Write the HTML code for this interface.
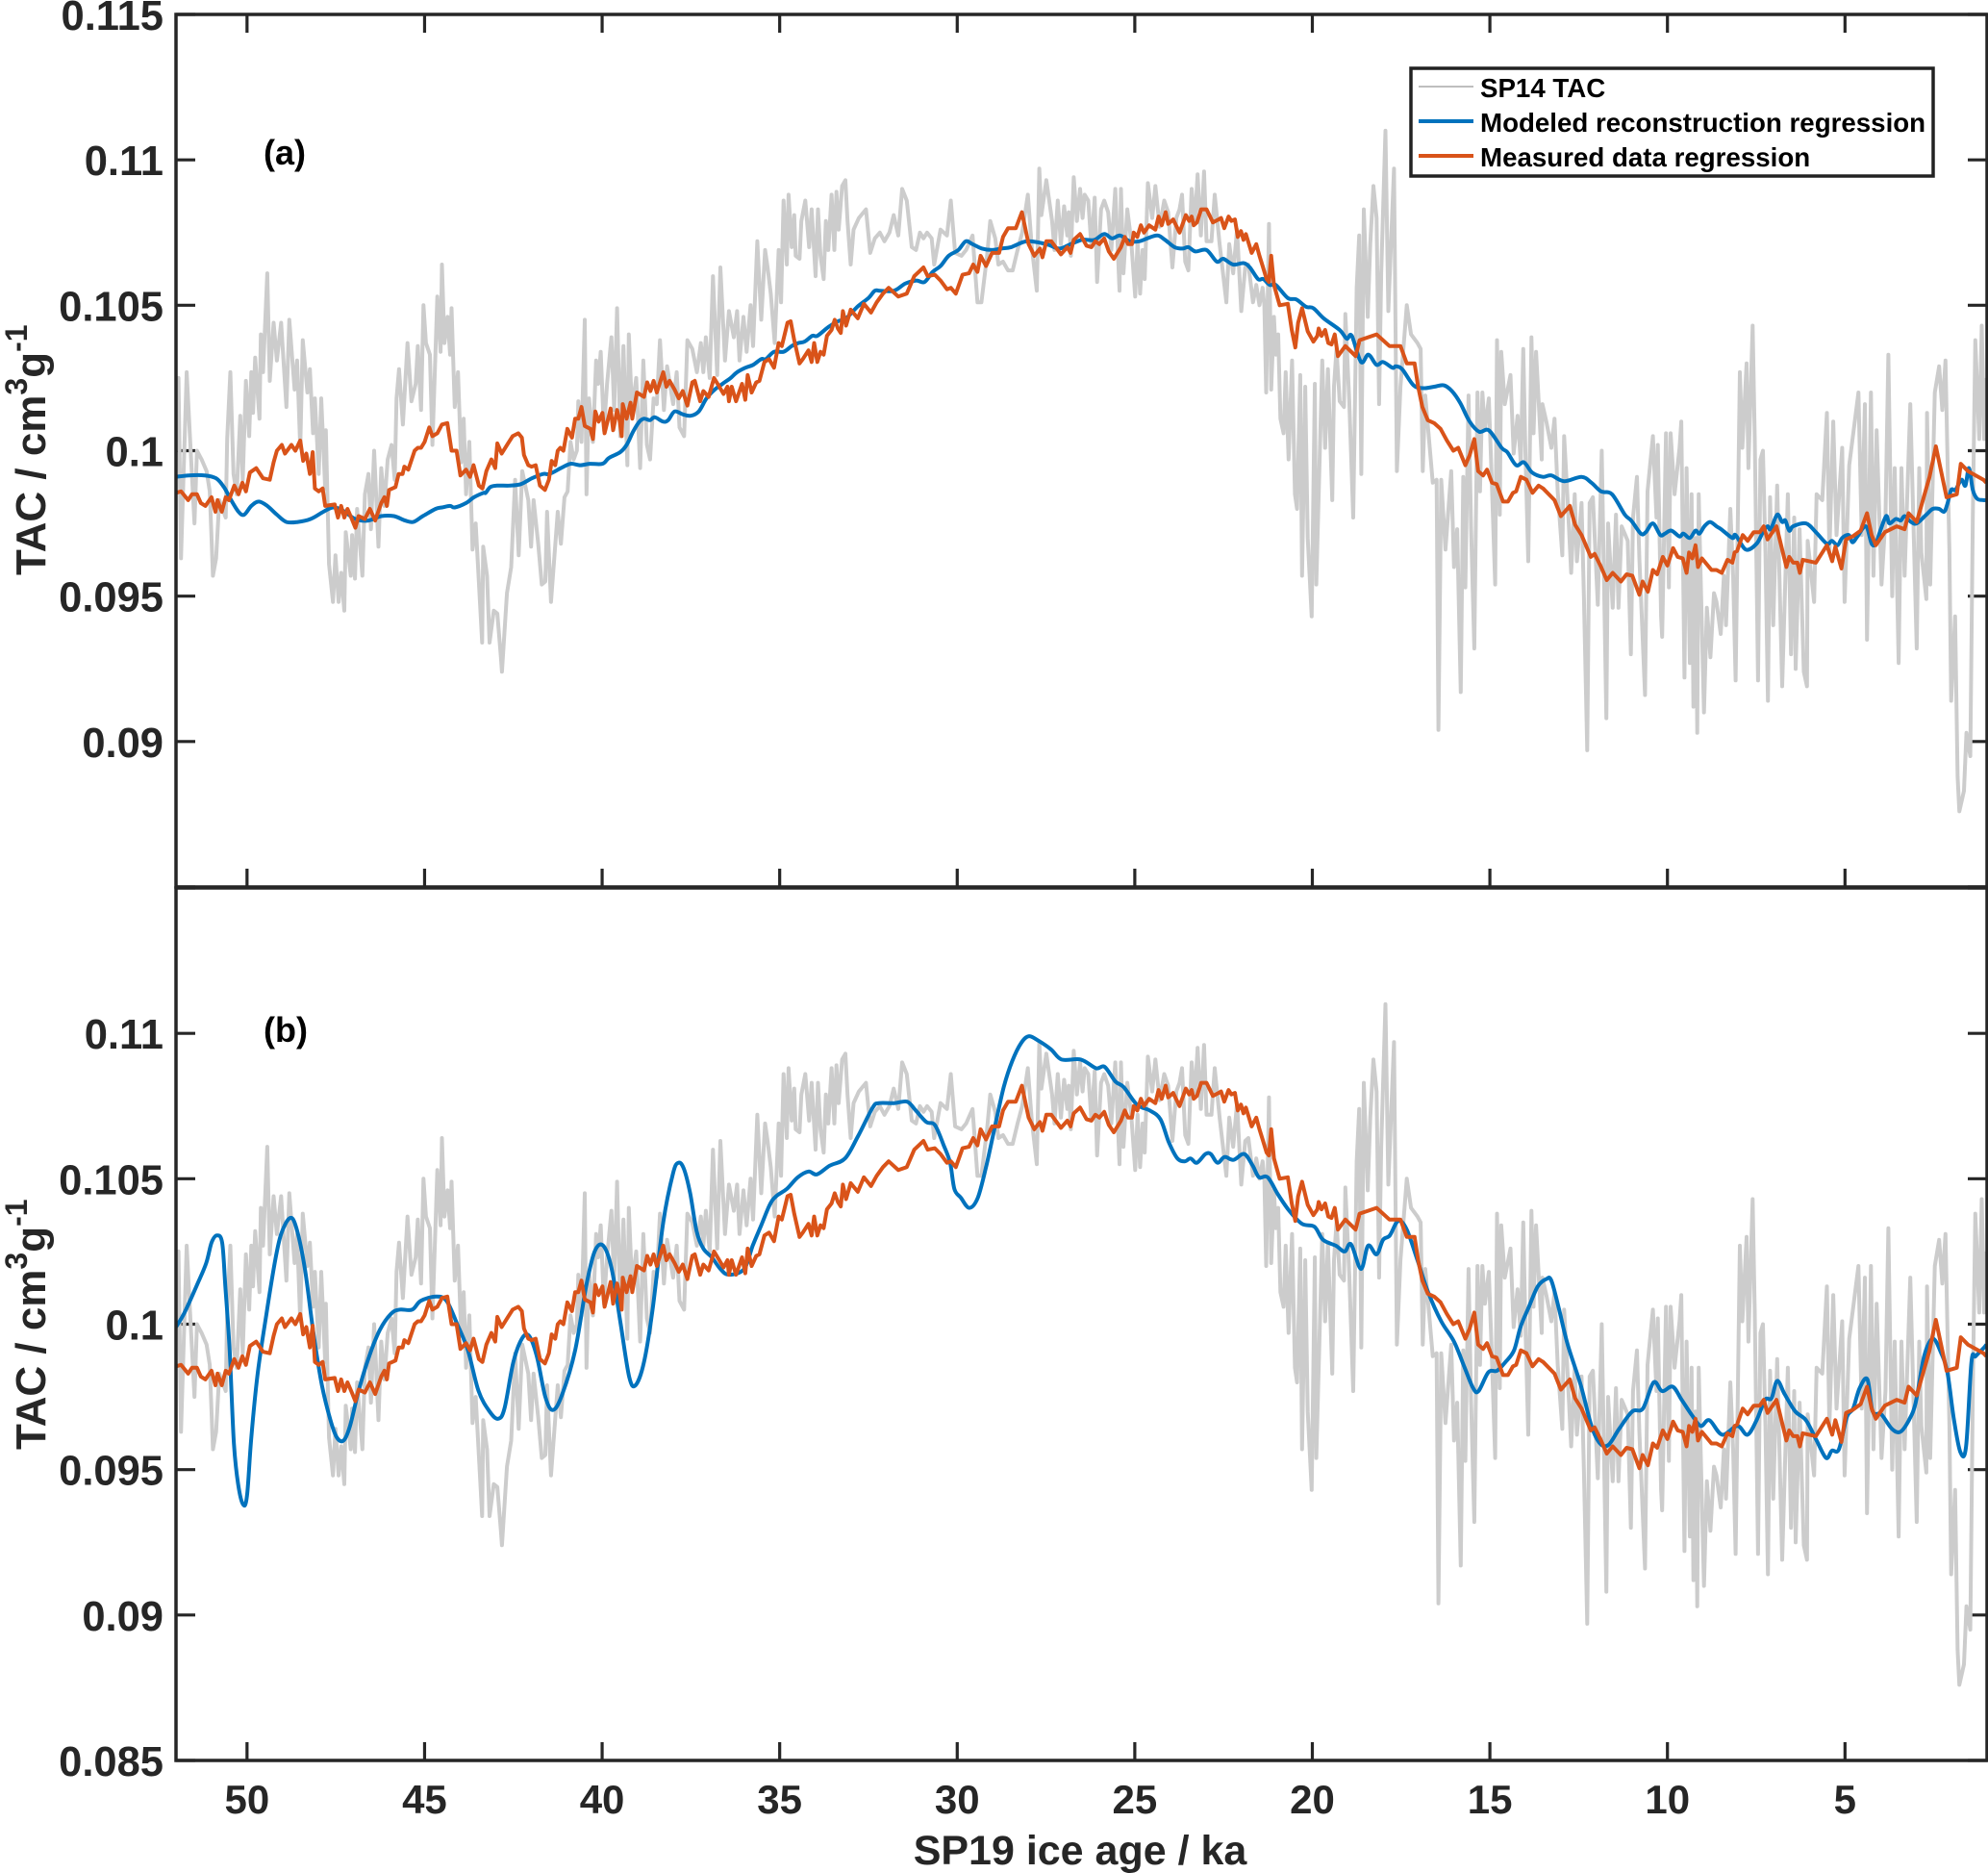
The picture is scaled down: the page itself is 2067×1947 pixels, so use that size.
<!DOCTYPE html>
<html lang="en">
<head>
<meta charset="utf-8">
<title>TAC versus SP19 ice age</title>
<style>
html,body{margin:0;padding:0;background:#fff;}
svg{display:block;}
text{font-family:"Liberation Sans",Arial,sans-serif;font-weight:bold;}
</style>
</head>
<body>
<svg id="chart" xmlns="http://www.w3.org/2000/svg" width="2067" height="1947" viewBox="0 0 2067 1947">
  <rect x="0" y="0" width="2067" height="1947" fill="#ffffff"/>
  <defs>
    <clipPath id="clip-a"><rect x="183" y="15" width="1883" height="907"/></clipPath>
    <clipPath id="clip-b"><rect x="183" y="923" width="1883" height="907"/></clipPath>
  </defs>
  <g id="panel-a"></g>
  <g id="panel-b"></g>

  <text x="274" y="171" font-size="36" fill="#000">(a)</text>
  <text x="274" y="1083" font-size="36" fill="#000">(b)</text>

  <text transform="translate(47,598) rotate(-90)" font-size="44" fill="#262626">TAC / cm<tspan font-size="32" dy="-19">3</tspan><tspan dy="19">g</tspan><tspan font-size="32" dy="-19">-1</tspan></text>
  <text transform="translate(47,1507) rotate(-90)" font-size="44" fill="#262626">TAC / cm<tspan font-size="32" dy="-19">3</tspan><tspan dy="19">g</tspan><tspan font-size="32" dy="-19">-1</tspan></text>
  <text x="1123" y="1938" font-size="43" text-anchor="middle" fill="#262626">SP19 ice age / ka</text>

  <g>
    <rect x="1467" y="71" width="543" height="112" fill="#ffffff" stroke="#222222" stroke-width="3.5"/>
    <line x1="1475" x2="1532" y1="90" y2="90" stroke="#a8a8a8" stroke-width="1.5"/>
    <text x="1539" y="101" font-size="27.7" fill="#000">SP14 TAC</text>
    <line x1="1475" x2="1532" y1="126" y2="126" stroke="#0072bd" stroke-width="4"/>
    <text x="1539" y="137" font-size="27.7" fill="#000">Modeled reconstruction regression</text>
    <line x1="1475" x2="1532" y1="162" y2="162" stroke="#d95319" stroke-width="4"/>
    <text x="1539" y="173" font-size="27.7" fill="#000">Measured data regression</text>
  </g>
</svg>
<script>
// Values are TAC in units of 10^-3 cm3/g; ages are ka.
const xTicks = [50,45,40,35,30,25,20,15,10,5];
const xTickLabels = ["50","45","40","35","30","25","20","15","10","5"];
const yTicks = [85,90,95,100,105,110,115];
const yTickLabelsA = ["","0.09","0.095","0.1","0.105","0.11","0.115"];
const yTickLabelsB = ["0.085","0.09","0.095","0.1","0.105","0.11",""];

const grayAges = [
52.00,51.93,51.86,51.70,51.59,51.48,51.41,51.28,51.14,51.05,
50.96,50.87,50.78,50.69,50.60,50.56,50.47,50.38,50.29,50.19,
50.12,50.03,49.94,49.88,49.83,49.77,49.65,49.61,49.55,49.43,
49.36,49.25,49.16,49.04,48.89,48.81,48.66,48.59,48.50,48.43,
48.30,48.23,48.14,48.09,47.98,47.91,47.80,47.78,47.69,47.58,
47.51,47.42,47.35,47.26,47.22,47.08,47.04,46.96,46.90,46.75,
46.68,46.58,46.51,46.42,46.30,46.22,46.13,46.04,45.93,45.84,
45.79,45.72,45.61,45.48,45.37,45.25,45.19,45.10,45.03,44.96,
44.85,44.78,44.64,44.55,44.51,44.44,44.35,44.28,44.24,44.15,
44.06,43.97,43.90,43.83,43.74,43.65,43.56,43.38,43.35,43.24,
43.17,43.05,42.95,42.85,42.82,42.68,42.56,42.45,42.35,42.25,
42.08,42.00,41.93,41.80,41.70,41.60,41.55,41.44,41.25,41.16,
41.06,40.97,40.89,40.80,40.71,40.67,40.58,40.49,40.44,40.37,
40.26,40.17,40.11,40.04,39.95,39.86,39.74,39.66,39.58,39.49,
39.40,39.29,39.25,39.16,39.04,38.93,38.84,38.74,38.65,38.55,
38.46,38.37,38.26,38.17,38.00,37.90,37.82,37.69,37.60,37.46,
37.33,37.22,37.15,37.08,36.97,36.88,36.76,36.67,36.54,36.43,
36.29,36.20,36.13,36.02,35.93,35.82,35.75,35.63,35.52,35.41,
35.34,35.25,35.14,35.03,34.96,34.89,34.80,34.75,34.66,34.59,
34.55,34.44,34.39,34.28,34.17,34.10,33.99,33.92,33.85,33.76,
33.70,33.63,33.54,33.46,33.40,33.34,33.24,33.15,33.09,33.00,
32.92,32.77,32.57,32.45,32.32,32.18,32.05,31.91,31.79,31.66,
31.55,31.42,31.28,31.16,31.05,30.95,30.85,30.72,30.65,30.47,
30.29,30.18,30.06,29.88,29.75,29.57,29.43,29.32,29.16,29.07,
28.93,28.84,28.71,28.57,28.44,28.30,28.17,28.01,27.90,27.76,
27.69,27.63,27.49,27.33,27.26,27.17,27.08,26.99,26.90,26.86,
26.80,26.72,26.63,26.54,26.47,26.41,26.31,26.22,26.13,26.06,
25.95,25.86,25.75,25.66,25.55,25.43,25.39,25.32,25.21,25.10,
24.99,24.92,24.85,24.78,24.72,24.63,24.51,24.42,24.30,24.17,
24.06,23.94,23.83,23.74,23.67,23.58,23.49,23.40,23.31,23.23,
23.14,23.05,22.98,22.84,22.75,22.61,22.42,22.34,22.23,22.12,
22.00,21.89,21.80,21.67,21.58,21.49,21.40,21.35,21.30,21.22,
21.16,21.08,21.03,20.96,20.90,20.81,20.75,20.67,20.57,20.49,
20.43,20.34,20.29,20.20,20.13,20.02,19.93,19.89,19.72,19.64,
19.56,19.44,19.39,19.32,19.23,19.11,19.07,18.96,18.85,18.75,
18.68,18.62,18.55,18.44,18.37,18.28,18.19,18.12,18.06,17.94,
17.86,17.70,17.62,17.52,17.34,17.22,17.04,16.95,16.89,16.82,
16.61,16.50,16.45,16.37,16.25,16.09,16.01,15.92,15.82,15.75,
15.69,15.60,15.53,15.44,15.35,15.28,15.21,15.14,15.03,14.96,
14.85,14.80,14.72,14.68,14.58,14.42,14.33,14.22,14.13,14.06,
14.00,13.92,13.83,13.77,13.70,13.54,13.52,13.41,13.27,13.18,
13.09,12.96,12.91,12.82,12.71,12.61,12.55,12.42,12.35,12.26,
12.19,12.10,11.96,11.85,11.72,11.67,11.54,11.45,11.38,11.29,
11.12,11.03,10.97,10.86,10.79,10.63,10.56,10.41,10.31,10.27,
10.18,10.15,10.04,9.96,9.91,9.80,9.66,9.61,9.52,9.46,
9.37,9.32,9.27,9.21,9.16,9.12,9.05,8.97,8.89,8.79,
8.69,8.62,8.50,8.41,8.35,8.23,8.15,8.08,7.96,7.89,
7.77,7.72,7.60,7.54,7.45,7.38,7.31,7.24,7.17,7.11,
7.02,6.91,6.77,6.61,6.52,6.43,6.39,6.28,6.16,6.07,
6.05,5.87,5.80,5.64,5.51,5.44,5.33,5.24,5.08,5.01,
4.88,4.62,4.53,4.44,4.38,4.27,4.20,4.11,3.97,3.86,
3.78,3.67,3.60,3.49,3.41,3.32,3.16,2.98,2.91,2.85,
2.71,2.69,2.60,2.47,2.35,2.26,2.17,2.06,2.01,1.90,
1.83,1.78,1.65,1.58,1.47,1.40,1.33,1.22,1.15,1.08,
1.02];
const grayValues = [
100.0,102.5,96.3,102.7,100.1,97.5,100.0,99.7,99.3,98.6,
95.7,96.3,98.3,98.0,97.7,100.4,102.7,99.2,98.5,101.2,
99.0,102.4,100.5,102.7,101.3,103.2,101.1,104.0,102.7,106.1,
102.4,104.4,103.1,104.4,101.5,104.5,102.1,103.1,100.1,103.8,
102.0,102.8,100.6,101.8,99.2,101.8,98.7,100.7,96.1,94.8,
96.4,94.8,95.8,94.5,97.2,95.7,97.1,95.6,98.0,95.7,
98.5,99.2,97.3,100.0,96.7,99.4,98.1,99.7,100.2,99.0,
101.8,102.8,100.9,103.7,101.7,102.3,103.6,101.4,105.0,103.7,
103.3,100.2,105.3,103.4,106.4,103.7,104.6,103.3,104.9,101.5,
102.7,99.6,101.1,98.5,100.3,96.6,97.5,93.4,96.7,95.7,
93.4,94.5,94.4,92.9,92.4,95.1,96.0,99.0,96.4,99.3,
98.3,96.7,98.3,96.8,95.4,95.5,97.9,94.8,97.9,96.8,
98.4,98.6,100.3,99.7,100.0,101.7,100.3,104.5,98.5,101.8,
100.3,103.1,102.3,103.4,100.7,102.3,103.9,101.4,104.9,100.5,
103.6,99.5,104.0,101.4,102.5,99.4,103.1,100.2,99.7,101.8,
101.6,103.8,101.4,102.9,101.6,102.7,100.8,100.5,103.8,103.5,
102.7,103.7,102.7,103.9,102.5,106.0,102.6,106.3,103.1,104.8,
103.9,104.8,103.1,104.6,103.4,105.0,103.6,107.2,104.5,106.9,
106.3,105.4,103.7,106.9,105.1,108.6,106.4,108.8,107.0,108.1,
106.7,106.6,107.9,108.6,107.0,108.3,106.0,108.3,106.7,105.9,
107.9,106.9,108.8,106.9,108.9,107.6,109.1,109.3,107.9,106.4,
107.6,108.0,108.3,106.8,107.3,107.5,107.2,107.5,108.1,107.4,
109.0,108.6,107.0,106.9,107.5,107.3,107.5,107.3,106.4,107.6,
107.4,108.6,106.8,106.7,106.9,107.4,105.1,105.1,106.7,107.9,
107.3,106.4,106.5,106.2,106.2,106.9,107.5,108.8,107.0,105.5,
109.7,108.1,109.3,107.9,106.9,108.6,107.1,108.4,107.4,108.2,
106.7,109.4,107.9,109.0,108.0,108.8,108.6,107.0,108.7,105.8,
108.3,108.6,108.2,106.9,109.0,105.5,109.0,106.1,108.3,107.2,
105.3,107.2,105.4,106.9,105.9,109.2,108.0,109.1,107.7,108.6,
108.2,106.3,108.0,108.3,108.8,106.5,106.2,109.0,107.8,109.5,
107.4,109.6,107.2,107.2,108.8,107.1,105.1,107.1,106.1,107.6,
104.8,106.3,106.4,105.1,105.7,105.0,105.6,105.0,102.0,107.8,
102.1,104.6,103.3,104.0,101.1,100.6,102.7,99.7,103.1,98.5,
98.0,102.6,95.7,102.2,97.0,94.3,102.3,95.4,103.1,100.1,
102.8,98.3,102.2,103.5,101.7,101.5,104.7,101.7,97.7,105.6,
107.4,99.2,108.3,104.6,107.1,109.1,108.0,101.6,106.1,111.0,
104.8,109.7,99.3,102.2,105.0,104.0,103.7,103.5,99.3,101.9,
98.9,99.0,90.4,99.0,96.6,99.3,96.0,97.3,91.7,99.1,
95.3,101.9,97.4,93.2,102.0,98.6,102.0,100.7,101.8,99.4,
95.4,103.8,97.8,103.4,101.6,102.6,99.9,101.2,99.6,103.5,
100.0,96.2,103.9,100.6,103.4,99.7,101.6,101.0,100.1,101.1,
98.6,96.4,100.5,98.5,95.8,98.5,96.2,98.2,94.9,89.7,
98.2,98.4,94.7,100.0,90.8,97.5,94.6,97.8,94.6,97.4,
96.9,93.0,97.7,99.1,96.3,91.6,98.6,100.5,97.7,100.2,
94.3,93.6,100.6,95.3,100.6,98.5,100.1,101.0,92.2,99.4,
92.7,98.5,91.2,97.0,90.3,98.5,94.9,91.0,94.6,92.9,
95.1,94.8,93.7,95.7,94.0,98.0,95.7,92.1,102.7,100.1,
103.0,99.4,104.3,100.4,92.1,99.7,100.0,96.5,91.4,98.4,
94.0,98.8,91.9,98.5,93.0,97.7,92.5,97.3,92.4,91.9,
96.9,94.8,98.5,98.3,101.3,96.5,101.0,97.1,100.1,94.8,
99.5,102.0,97.1,101.6,93.5,102.0,95.7,100.7,95.4,97.7,
103.3,95.0,99.4,92.7,99.4,95.7,101.6,93.2,99.4,96.5,
94.9,101.3,95.4,102.0,102.9,101.4,103.1,96.5,91.4,94.3,
88.8,87.6,88.3,90.3,89.5,97.7,103.8,100.4,104.3,100.4,
102.5];

const orangeAges = [
52.00,51.86,51.66,51.55,51.41,51.30,51.17,51.00,50.89,50.83,
50.71,50.60,50.51,50.36,50.24,50.13,50.03,49.92,49.74,49.55,
49.36,49.25,49.16,49.02,48.93,48.75,48.64,48.50,48.42,48.33,
48.23,48.15,48.09,47.98,47.87,47.80,47.53,47.44,47.35,47.26,
47.17,47.05,46.95,46.86,46.68,46.54,46.39,46.22,46.13,46.06,
46.00,45.82,45.73,45.62,45.57,45.46,45.28,45.19,45.10,45.00,
44.87,44.78,44.64,44.51,44.36,44.24,44.10,43.99,43.83,43.72,
43.62,43.47,43.37,43.26,43.12,43.01,42.95,42.83,42.65,42.52,
42.36,42.26,42.20,42.08,41.99,41.87,41.75,41.61,41.50,41.42,
41.32,41.25,41.18,41.09,40.98,40.85,40.76,40.67,40.58,40.49,
40.33,40.26,40.19,40.10,39.99,39.93,39.76,39.69,39.58,39.51,
39.45,39.42,39.31,39.20,39.15,39.02,38.82,38.73,38.64,38.55,
38.46,38.28,38.19,38.10,37.96,37.84,37.73,37.60,37.46,37.39,
37.24,37.15,37.00,36.85,36.70,36.58,36.47,36.43,36.35,36.23,
36.06,35.97,35.90,35.79,35.66,35.57,35.43,35.30,35.16,35.03,
34.94,34.78,34.69,34.59,34.44,34.35,34.19,34.10,34.03,33.94,
33.85,33.76,33.67,33.54,33.45,33.36,33.28,33.22,33.13,33.00,
32.80,32.63,32.43,32.27,32.09,31.93,31.66,31.42,31.21,30.95,
30.83,30.63,30.47,30.29,30.18,30.04,29.85,29.67,29.55,29.43,
29.34,29.19,29.02,28.82,28.71,28.57,28.35,28.18,27.99,27.83,
27.67,27.60,27.49,27.35,27.08,26.90,26.81,26.72,26.54,26.36,
26.22,26.11,26.00,25.86,25.73,25.59,25.39,25.28,25.19,25.08,
25.03,24.93,24.83,24.74,24.60,24.42,24.33,24.24,24.13,24.06,
23.92,23.74,23.56,23.47,23.40,23.34,23.25,23.13,22.98,22.80,
22.64,22.57,22.48,22.36,22.28,22.18,22.10,22.01,21.94,21.87,
21.71,21.58,21.49,21.40,21.29,21.22,21.16,21.08,20.92,20.69,
20.58,20.48,20.40,20.29,20.13,19.97,19.86,19.82,19.74,19.64,
19.55,19.46,19.37,19.28,19.07,18.78,18.67,18.19,17.83,17.52,
17.34,17.12,17.02,16.90,16.75,16.57,16.39,16.21,16.03,15.89,
15.69,15.57,15.44,15.33,15.19,15.08,14.94,14.81,14.63,14.49,
14.35,14.26,14.13,13.97,13.80,13.63,13.50,13.18,13.00,12.75,
12.60,12.42,12.16,12.05,11.87,11.71,11.54,11.31,11.15,10.99,
10.79,10.70,10.55,10.41,10.29,10.13,10.00,9.84,9.71,9.57,
9.46,9.39,9.30,9.21,9.14,9.03,8.76,8.62,8.47,8.31,
8.17,8.11,8.04,7.88,7.74,7.57,7.40,7.29,7.18,6.93,
6.65,6.57,6.46,6.34,6.27,6.19,5.82,5.51,5.36,5.27,
5.10,4.97,4.79,4.56,4.38,4.25,4.13,3.88,3.54,3.32,
3.21,2.98,2.62,2.44,2.14,1.85,1.74,1.54,1.10,1.02];
const orangeValues = [
98.55,98.6,98.3,98.5,98.5,98.2,98.1,98.4,97.9,98.3,
97.9,98.4,98.3,98.8,98.5,98.9,98.6,99.25,99.4,99.05,
99.0,99.6,100.0,100.2,99.9,100.2,100.0,100.35,99.65,99.9,
99.2,99.95,98.7,98.6,98.7,98.1,98.15,97.7,98.1,97.7,
98.0,97.65,97.35,97.75,97.65,98.0,97.6,98.2,98.4,98.1,
98.65,98.75,99.2,99.2,99.45,99.35,100.0,100.1,100.1,100.3,
100.8,100.5,100.6,100.9,100.95,100.0,100.0,99.15,99.35,99.1,
99.5,98.8,98.7,99.3,99.7,99.4,100.25,99.9,100.25,100.5,
100.6,100.45,99.85,99.5,99.45,99.5,98.8,98.65,99.0,99.65,
99.5,100.0,100.1,100.0,100.75,100.45,101.1,101.1,101.5,100.85,
100.75,100.4,101.35,101.0,101.3,100.6,101.45,100.7,101.4,101.05,
100.5,101.6,101.1,101.65,101.1,102.0,101.85,102.35,102.05,102.4,
102.0,102.7,102.2,102.4,102.1,101.8,102.05,101.55,102.35,102.4,
101.7,102.05,101.85,102.5,102.2,101.95,102.2,101.7,102.2,101.7,
102.3,101.75,102.6,102.0,102.35,102.4,103.05,103.15,102.85,103.7,
103.6,104.4,104.45,103.8,103.0,103.15,103.45,103.05,103.7,103.05,
103.4,103.3,103.95,104.15,104.5,104.2,104.05,104.8,104.3,104.85,
104.55,105.05,104.75,105.1,105.4,105.6,105.3,105.4,106.0,106.3,
106.0,106.05,105.85,105.55,105.6,105.4,106.05,106.1,106.4,106.15,
106.7,106.35,106.8,106.8,107.35,107.65,107.65,108.2,107.1,106.7,
106.95,106.65,107.2,107.2,106.75,107.0,106.8,107.25,107.45,107.05,
107.0,107.2,107.1,107.3,106.85,106.6,107.0,107.35,107.1,107.1,
107.5,107.35,107.75,107.5,107.75,107.6,108.05,107.75,108.2,107.8,
107.95,107.5,108.1,107.9,108.05,107.75,107.85,108.3,108.3,107.85,
107.95,108.0,107.65,108.05,107.9,107.95,107.35,107.55,107.25,107.45,
106.8,107.1,106.7,106.35,105.9,105.8,106.7,105.7,105.0,105.05,
104.15,103.55,104.4,104.9,104.1,103.75,103.95,104.2,103.95,104.15,
103.7,103.65,104.0,103.25,103.6,103.25,103.8,104.0,103.6,103.6,
103.0,103.0,102.2,101.5,101.05,100.95,100.75,100.35,100.0,100.1,
99.5,99.85,100.4,99.3,99.15,99.35,98.9,98.85,98.25,98.25,
98.55,98.6,99.1,99.0,98.55,98.8,98.7,98.3,97.75,98.1,
97.45,97.1,96.35,96.45,96.0,95.55,95.8,95.5,95.75,95.7,
95.05,95.5,95.15,95.9,95.75,96.35,96.05,96.65,96.35,96.3,
95.8,96.5,96.3,96.75,96.0,96.3,95.9,95.9,95.8,96.25,
96.15,96.5,96.55,97.1,96.9,97.2,97.2,97.4,96.95,97.4,
96.0,96.35,96.15,96.15,95.8,96.25,96.15,96.75,96.2,96.7,
95.95,96.95,97.05,97.25,97.85,97.1,96.75,97.2,97.4,97.3,
97.85,97.55,99.1,100.15,98.4,98.5,99.55,99.3,99.0,98.9];

const blueAAges = [
52.00,51.64,51.19,50.87,50.65,50.47,50.24,50.08,49.88,49.67,
49.43,49.16,48.89,48.57,48.21,47.85,47.58,47.31,46.95,46.58,
46.22,45.86,45.55,45.32,45.05,44.69,44.51,44.28,44.15,43.83,
43.61,43.34,43.28,43.15,42.97,42.61,42.29,41.98,41.66,41.48,
41.16,40.89,40.62,40.35,39.99,39.81,39.49,39.31,39.13,38.95,
38.82,38.65,38.52,38.28,38.14,37.96,37.73,37.51,37.28,37.06,
36.83,36.61,36.38,36.20,35.97,35.75,35.52,35.39,35.16,34.89,
34.66,34.48,34.30,34.08,33.94,33.63,33.36,33.13,32.81,32.50,
32.32,32.18,31.78,31.46,31.15,30.92,30.69,30.47,30.24,29.97,
29.76,29.57,29.30,29.02,28.75,28.48,28.03,27.49,27.13,26.81,
26.50,26.36,26.13,25.86,25.64,25.41,25.14,24.87,24.65,24.36,
24.15,23.88,23.65,23.49,23.29,22.98,22.69,22.51,22.23,21.94,
21.76,21.53,21.38,21.20,21.03,20.69,20.45,20.18,19.97,19.68,
19.23,19.03,18.89,18.63,18.42,18.19,18.01,17.74,17.65,17.47,
17.15,16.88,16.57,16.30,16.07,15.84,15.57,15.30,15.03,14.67,
14.51,14.26,14.04,13.81,13.51,13.27,12.91,12.42,12.14,11.87,
11.56,11.20,11.02,10.75,10.61,10.41,10.20,10.07,9.89,9.66,
9.55,9.37,9.21,9.10,8.96,8.80,8.62,8.49,8.17,8.08,
7.79,7.49,7.31,7.18,7.09,6.91,6.77,6.68,6.57,6.46,
6.10,5.82,5.51,5.37,5.21,5.08,4.89,4.79,4.65,4.41,
4.25,4.13,4.02,3.84,3.75,3.57,3.43,3.32,3.14,2.98,
2.71,2.53,2.35,2.21,2.12,2.01,1.89,1.72,1.61,1.51,
1.40,1.28,1.10,1.02];
const blueAValues = [
99.1,99.15,99.15,99.05,98.75,98.35,97.9,97.8,98.1,98.25,
98.1,97.8,97.55,97.55,97.65,97.9,98.05,97.95,97.65,97.6,
97.75,97.75,97.6,97.55,97.75,98.0,98.05,98.1,98.05,98.2,
98.4,98.55,98.55,98.75,98.8,98.8,98.85,99.05,99.2,99.2,
99.4,99.55,99.5,99.55,99.55,99.75,99.95,100.2,100.65,101.0,
101.1,101.05,101.15,101.0,101.05,101.35,101.25,101.2,101.35,101.8,
102.1,102.3,102.5,102.7,102.85,102.95,103.15,103.15,103.4,103.4,
103.6,103.7,103.75,103.95,103.95,104.25,104.45,104.55,104.95,105.25,
105.5,105.5,105.5,105.75,105.85,105.8,106.15,106.35,106.7,106.9,
107.2,107.1,106.95,106.9,106.95,107.0,107.2,107.1,106.95,107.1,
107.25,107.25,107.25,107.45,107.3,107.4,107.2,107.2,107.3,107.4,
107.25,107.0,106.95,107.0,106.85,106.9,106.5,106.6,106.4,106.45,
106.3,105.9,105.9,105.7,105.7,105.25,105.2,104.95,104.9,104.55,
104.15,103.85,103.95,103.05,103.3,102.95,103.05,102.85,102.9,102.8,
102.25,102.15,102.2,102.25,102.05,101.65,101.0,100.65,100.7,100.1,
99.95,99.5,99.6,99.25,99.1,99.15,98.95,99.1,98.9,98.6,
98.5,97.8,97.6,97.15,97.2,97.5,97.1,97.15,97.25,97.05,
97.15,97.0,97.25,97.15,97.4,97.55,97.4,97.3,97.0,97.1,
96.6,96.8,97.2,97.4,97.3,97.8,97.55,97.6,97.25,97.4,
97.5,97.2,96.8,96.9,96.75,97.0,97.1,96.85,97.05,97.4,
96.8,96.8,97.2,97.75,97.5,97.65,97.6,97.75,97.55,97.5,
97.8,98.0,98.0,97.9,98.15,98.65,98.65,99.0,98.8,99.4,
98.65,98.35,98.3,98.3];

const blueBAges = [
52.00,51.76,51.39,51.15,51.00,50.85,50.70,50.61,50.49,50.37,
50.25,50.11,50.00,49.88,49.70,49.46,49.22,49.04,48.79,48.61,
48.37,48.13,47.89,47.65,47.47,47.28,47.10,46.86,46.56,46.26,
45.95,45.71,45.35,45.11,44.68,44.38,44.08,43.78,43.48,43.17,
42.93,42.75,42.50,42.26,42.06,41.84,41.60,41.38,41.12,40.76,
40.45,40.21,39.97,39.73,39.49,39.24,39.06,38.82,38.58,38.28,
38.00,37.85,37.70,37.52,37.34,37.15,36.91,36.67,36.43,36.00,
35.76,35.52,35.28,35.10,34.80,34.49,34.19,33.95,33.59,33.16,
32.80,32.38,32.20,31.77,31.41,31.17,30.87,30.63,30.38,30.20,
30.08,29.90,29.66,29.42,29.18,28.93,28.69,28.45,28.21,27.99,
27.72,27.36,27.06,26.52,26.09,25.85,25.55,25.31,24.94,24.58,
24.28,24.04,23.80,23.59,23.43,23.25,23.01,22.86,22.67,22.47,
22.22,21.92,21.68,21.50,21.26,20.96,20.65,20.29,19.94,19.70,
19.34,19.09,18.91,18.63,18.43,18.19,18.01,17.82,17.58,17.34,
17.04,16.74,16.37,16.01,15.71,15.47,15.32,15.04,14.80,14.56,
14.32,14.14,13.90,13.65,13.41,13.27,13.05,12.81,12.44,12.14,
11.90,11.66,11.36,10.99,10.69,10.39,10.15,9.85,9.60,9.30,
9.06,8.82,8.46,8.03,7.75,7.49,7.25,7.07,6.91,6.70,
6.40,6.10,5.80,5.53,5.37,5.17,4.95,4.77,4.59,4.37,
4.22,3.98,3.68,3.44,3.20,3.01,2.77,2.53,2.29,2.11,
1.93,1.75,1.59,1.44,1.32,1.08,1.02];
const blueBValues = [
99.9,100.4,101.4,102.1,102.8,103.05,102.8,101.3,99.1,95.9,
94.5,93.8,94.1,96.1,98.3,100.3,102.1,103.1,103.65,103.3,
101.9,99.7,97.9,96.7,96.1,96.0,96.5,97.7,98.9,99.8,
100.35,100.5,100.5,100.8,100.95,100.8,100.0,99.1,97.7,97.0,
96.75,97.1,98.7,99.5,99.6,98.9,97.5,97.05,97.6,99.1,
101.3,102.5,102.7,101.9,100.1,98.2,97.9,98.7,100.5,103.5,
105.2,105.55,105.35,104.5,103.2,102.6,102.3,101.9,101.7,101.9,
102.7,103.4,104.1,104.4,104.65,105.05,105.25,105.15,105.45,105.7,
106.45,107.45,107.6,107.6,107.65,107.35,106.95,106.85,106.15,105.55,
104.65,104.35,104.0,104.35,105.45,106.85,108.15,109.05,109.65,109.9,
109.75,109.45,109.1,109.1,108.8,108.85,108.35,108.15,107.55,107.35,
107.05,106.25,105.7,105.6,105.7,105.55,105.85,105.85,105.55,105.75,
105.65,105.85,105.45,105.05,105.05,104.45,103.9,103.45,103.35,102.9,
102.7,102.5,102.75,101.9,102.7,102.4,102.9,103.05,103.55,103.25,
102.2,101.1,100.1,99.4,98.5,97.8,97.7,98.35,98.4,98.7,
99.1,99.9,100.6,101.3,101.55,101.5,100.5,99.3,97.9,96.5,
95.9,95.85,96.4,97.0,97.1,98.0,97.7,97.85,97.4,96.85,
96.5,96.7,96.2,96.5,96.2,96.7,97.4,97.45,98.05,97.6,
97.0,96.7,96.0,95.4,95.65,95.7,96.8,97.1,97.8,98.1,
97.0,96.9,96.4,96.3,96.7,97.3,98.9,99.5,99.0,98.3,
96.7,95.6,95.8,98.7,98.9,99.2,99.3];

const SVG_NS = "http://www.w3.org/2000/svg";
const axisLeft = 183;
const axisRight = 2066;
const ageMax = 52;
const ageMin = 1;
const valueMin = 85;
const valueMax = 115;
const panelHeight = 907;
const frameColor = "#262626";

function xScale(age) {
  return axisLeft + (ageMax - age) / (ageMax - ageMin) * (axisRight - axisLeft);
}
function yScale(value, bottom) {
  return bottom - (value - valueMin) / (valueMax - valueMin) * panelHeight;
}
function makeLine(parent, x1, y1, x2, y2, width) {
  const ln = document.createElementNS(SVG_NS, "line");
  ln.setAttribute("x1", x1);
  ln.setAttribute("y1", y1);
  ln.setAttribute("x2", x2);
  ln.setAttribute("y2", y2);
  ln.setAttribute("stroke", frameColor);
  ln.setAttribute("stroke-width", width);
  parent.appendChild(ln);
  return ln;
}
function seriesPoints(ages, values, bottom) {
  const pts = [];
  const n = Math.min(ages.length, values.length);
  for (let i = 0; i < n; i++) {
    pts.push([xScale(ages[i]), yScale(values[i], bottom)]);
  }
  return pts;
}
function makeSeries(parent, ages, values, bottom, color, clipId, smooth) {
  const pts = seriesPoints(ages, values, bottom);
  let d = "M" + pts[0][0].toFixed(1) + " " + pts[0][1].toFixed(1);
  for (let i = 1; i < pts.length; i++) {
    if (smooth) {
      const p0 = pts[Math.max(i - 2, 0)];
      const p1 = pts[i - 1];
      const p2 = pts[i];
      const p3 = pts[Math.min(i + 1, pts.length - 1)];
      const c1x = p1[0] + (p2[0] - p0[0]) / 6;
      const c1y = p1[1] + (p2[1] - p0[1]) / 6;
      const c2x = p2[0] - (p3[0] - p1[0]) / 6;
      const c2y = p2[1] - (p3[1] - p1[1]) / 6;
      d += "C" + c1x.toFixed(1) + " " + c1y.toFixed(1) + " " + c2x.toFixed(1) + " " + c2y.toFixed(1) + " " + p2[0].toFixed(1) + " " + p2[1].toFixed(1);
    } else {
      d += "L" + pts[i][0].toFixed(1) + " " + pts[i][1].toFixed(1);
    }
  }
  const path = document.createElementNS(SVG_NS, "path");
  path.setAttribute("d", d);
  path.setAttribute("fill", "none");
  path.setAttribute("stroke", color);
  path.setAttribute("stroke-width", "4");
  path.setAttribute("stroke-linejoin", "round");
  path.setAttribute("clip-path", "url(#" + clipId + ")");
  parent.appendChild(path);
  return path;
}
function makeLabel(parent, x, y, str, anchor, size) {
  const t = document.createElementNS(SVG_NS, "text");
  t.setAttribute("x", x);
  t.setAttribute("y", y);
  t.setAttribute("font-size", size);
  t.setAttribute("fill", frameColor);
  t.setAttribute("text-anchor", anchor);
  t.textContent = str;
  parent.appendChild(t);
  return t;
}

function drawPanel(group, bottom, yLabels, blueAges, blueValues, clipId, isLower) {
  const top = bottom - panelHeight;

  xTicks.forEach(function (age, i) {
    const x = xScale(age);
    const tb = makeLine(group, x, bottom, x, bottom - 19, 3.2);
    
    
    if (!isLower) {
      const tt = makeLine(group, x, top, x, top + 19, 3.2);
      
      
    } else {
      const lb = makeLabel(group, x, 1885, xTickLabels[i], "middle", "42");
      
      
    }
  });
  yTicks.forEach(function (value, i) {
    const y = yScale(value, bottom);
    const tl = makeLine(group, axisLeft, y, axisLeft + 20, y, 3.2);
    
    
    const tr = makeLine(group, axisRight, y, axisRight - 20, y, 3.2);
    
    
    if (yLabels[i]) {
      const lb = makeLabel(group, 170, y + 16, yLabels[i], "end", "43.5");
      
      
    }
  });

  const gray = makeSeries(group, grayAges, grayValues, bottom, "#cccccc", clipId, false);
  
  
  const blue = makeSeries(group, blueAges, blueValues, bottom, "#0072bd", clipId, true);
  
  
  const orange = makeSeries(group, orangeAges, orangeValues, bottom, "#d95319", clipId, false);
  
  

  const frame = document.createElementNS(SVG_NS, "rect");
  frame.setAttribute("x", axisLeft);
  frame.setAttribute("y", top);
  frame.setAttribute("width", axisRight - axisLeft);
  frame.setAttribute("height", panelHeight);
  frame.setAttribute("fill", "none");
  frame.setAttribute("stroke", frameColor);
  frame.setAttribute("stroke-width", "3.5");
  
  
  group.appendChild(frame);
}

drawPanel(document.getElementById("panel-a"), 922, yTickLabelsA, blueAAges, blueAValues, "clip-a", false);
drawPanel(document.getElementById("panel-b"), 1830, yTickLabelsB, blueBAges, blueBValues, "clip-b", true);
</script>
</body>
</html>
